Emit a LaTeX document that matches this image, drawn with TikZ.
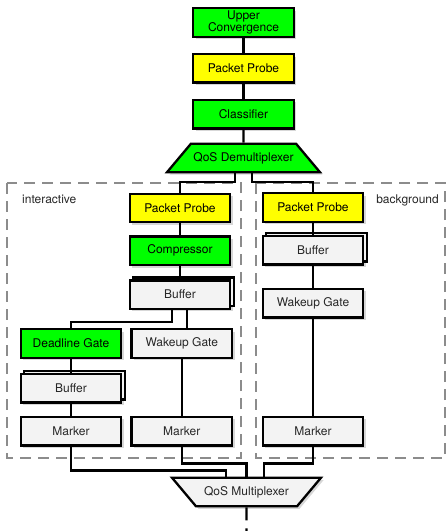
\documentclass[tikz,border=0pt]{standalone}
\usepackage{fontspec}
\setmainfont{TeX Gyre Heros}
\usepackage{tikz}
\usetikzlibrary{positioning,shapes.geometric,shadows}
\definecolor{greenBlock}{RGB}{0,255,0}
\definecolor{yellowBlock}{RGB}{255,255,0}
\definecolor{grayBlock}{RGB}{243,243,243}
\definecolor{frameLine}{RGB}{140,140,140}
\definecolor{shadowGray}{RGB}{175,175,175}

\begin{document}
\begin{tikzpicture}[
  x=1pt,
  y=1pt,
  font=\fontsize{12}{12}\selectfont,
  block/.style={
    draw=black,
    line width=2.3pt,
    minimum width=100.5pt,
    minimum height=28.5pt,
    inner sep=1pt,
    align=center,
    drop shadow={shadow xshift=2.5pt,shadow yshift=-2.5pt,fill=shadowGray,draw=none},
  },
  green block/.style={block,fill=greenBlock},
  yellow block/.style={block,fill=yellowBlock},
  gray block/.style={block,fill=grayBlock,text=black!85},
  buffer block/.style={
    gray block,
    copy shadow={shadow xshift=3.5pt,shadow yshift=3pt},
  },
  demux block/.style={
    trapezium,
    trapezium left angle=50,
    trapezium right angle=50,
    trapezium stretches body,
    inner ysep=8.5pt,
    minimum width=153pt,
  },
  mux block/.style={
    trapezium,
    trapezium left angle=130,
    trapezium right angle=130,
    trapezium stretches body,
    inner ysep=8.5pt,
    minimum width=149pt,
  },
  frame/.style={
    draw=frameLine,
    line width=1.8pt,
    dash pattern=on 11pt off 7pt,
  },
  frame label/.style={text=black!85,inner sep=1pt},
  link/.style={line width=2.2pt},
]
\useasboundingbox (0,0) rectangle (446,-531);

\draw[frame] (7,-183) rectangle (241,-458);
\draw[frame] (256,-183) rectangle (445,-458);
\node[frame label,anchor=west] (interLabel) at (21,-199) {interactive};
\node[frame label,anchor=east] (backLabel) at (440,-200) {background};

\node[green block] (upper) at (243.5,-22.5) {Upper\\Convergence};
\node[yellow block,below=15pt of upper] (probe0) {Packet Probe};
\node[green block,below=15pt of probe0] (classifier) {Classifier};
\node[green block,demux block,below=13pt of classifier] (demux) {QoS Demultiplexer};

\node[yellow block] (probe1) at (180,-208) {Packet Probe};
\node[green block,below=12pt of probe1] (compressor) {Compressor};
\node[buffer block,below=13pt of compressor] (buffer1) {Buffer};
\node[green block] (deadline) at (71,-343.5) {Deadline Gate};
\node[gray block,right=8pt of deadline] (wakeup1) {Wakeup Gate};
\node[buffer block,below=14pt of deadline] (buffer2) {Buffer};
\node[gray block,below=12pt of buffer2] (marker1) {Marker};
\node[gray block,right=8pt of marker1] (marker2) {Marker};

\node[yellow block] (probe2) at (313,-207.5) {Packet Probe};
\node[buffer block,below=12pt of probe2] (buffer3) {Buffer};
\node[gray block,below=22pt of buffer3] (wakeup2) {Wakeup Gate};
\node[gray block] (marker3) at (probe2 |- marker1) {Marker};

\node[gray block,mux block] (mux) at (246.5,-492) {QoS Multiplexer};
\coordinate (out) at (246.5,-537);

\draw[link] (upper) -- (probe0);
\draw[link] (probe0) -- (classifier);
\draw[link] (classifier) -- (demux);
\draw[link] ([xshift=-8.5pt]demux.south) -- ++(0,-8.5) -| (probe1);
\draw[link] ([xshift=8.5pt]demux.south) -- ++(0,-8.5) -| (probe2);

\draw[link] (probe1) -- (compressor);
\draw[link] (compressor) -- (buffer1);
\draw[link] ([xshift=-8pt]buffer1.south) -- ++(0,-12) -| (deadline);
\draw[link] ([xshift=7pt]buffer1.south) -- ([xshift=7pt]buffer1.south |- wakeup1.north);
\draw[link] (deadline) -- (buffer2);
\draw[link] (buffer2) -- (marker1);
\draw[link] (wakeup1) -- (marker2);

\draw[link] (probe2) -- (buffer3);
\draw[link] (buffer3) -- (wakeup2);
\draw[link] (wakeup2) -- (marker3);

\draw[link] (marker1.south) -- ++(0,-24) -| ([xshift=-20.5pt]mux.north);
\draw[link] (marker2.south) -- ++(0,-17) -| (mux.north);
\draw[link] (marker3.south) -- ++(0,-17) -| ([xshift=17.5pt]mux.north);
\draw[link,dash pattern=on 13pt off 8pt] (mux.south) -- (out);
\end{tikzpicture}
\end{document}
